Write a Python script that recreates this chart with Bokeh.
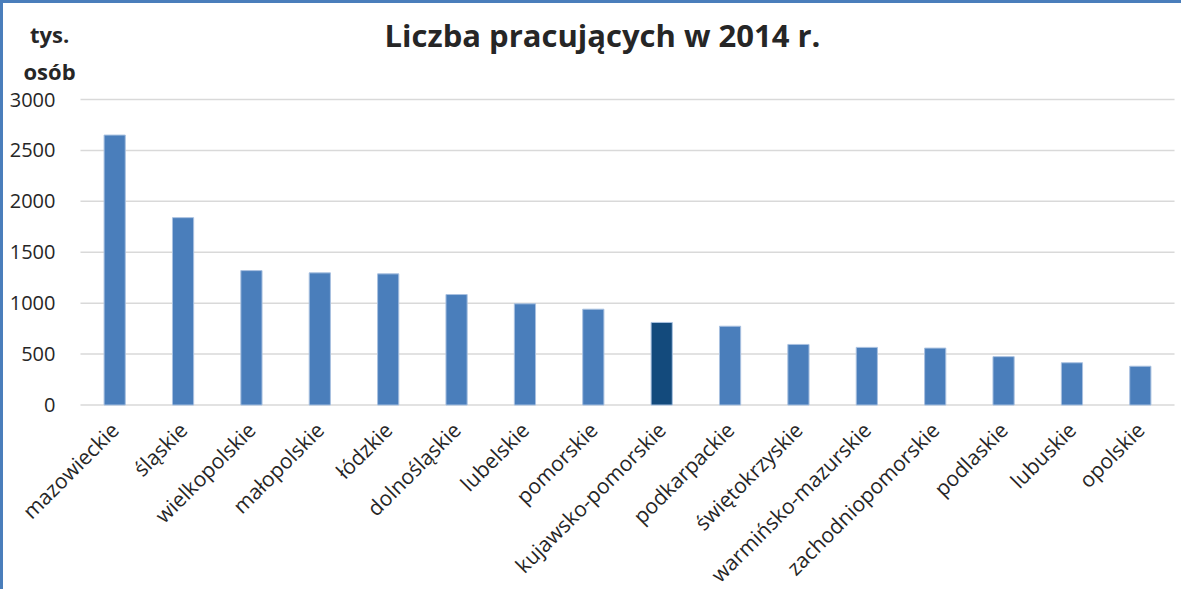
from bokeh.plotting import figure
from bokeh.models import Range1d, Label, ColumnDataSource
from bokeh.core.properties import value
from bokeh.embed import file_html
from bokeh.resources import INLINE
import math

regions = ["mazowieckie", "śląskie", "wielkopolskie", "małopolskie", "łódzkie",
           "dolnośląskie", "lubelskie", "pomorskie", "kujawsko-pomorskie",
           "podkarpackie", "świętokrzyskie", "warmińsko-mazurskie",
           "zachodniopomorskie", "podlaskie", "lubuskie", "opolskie"]
employed = [2651, 1840, 1320, 1298, 1288, 1085, 994, 941, 811, 774,
            595, 566, 559, 475, 415, 381]
highlight = "kujawsko-pomorskie"
y_ticks = [0, 500, 1000, 1500, 2000, 2500, 3000]
title_text = "Liczba pracujących w 2014 r."
unit_lines = ["tys.", "osób"]

BASE = "#4A7EBB"
DARK = "#134A7C"
FONT = "Open Sans"
TXT = "#262626"

n = len(regions)
xs = list(range(n))
colors = [DARK if r == highlight else BASE for r in regions]
src = ColumnDataSource(dict(x=xs, top=employed, color=colors, name=regions,
                            base=[0] * n))

p = figure(x_range=Range1d(-1.626, n - 0.354), y_range=Range1d(-1841, 3943),
           width=1181, height=589, output_backend="svg", toolbar_location=None,
           x_axis_location=None, y_axis_location=None,
           min_border_left=0, min_border_right=0, min_border_top=0,
           min_border_bottom=0)
p.styles = {"border-left": "3px solid #4A7EBB", "border-top": "3px solid #4A7EBB"}
p.outline_line_color = None
for g in p.grid:
    g.grid_line_color = None

# horizontal gridlines across the category area
p.segment(x0=[-0.5] * len(y_ticks), x1=[n - 0.5] * len(y_ticks),
          y0=y_ticks, y1=y_ticks, line_color="#D9D9D9", line_width=1.5)

p.vbar(x="x", top="top", width=0.31, fill_color="color", line_color="#A9C1E0",
       line_width=1, source=src)

# value-axis tick labels
p.text(x=[-0.5] * len(y_ticks), y=y_ticks, text=[str(t) for t in y_ticks],
       x_offset=-25, text_align="right", text_baseline="middle",
       text_font=value(FONT), text_font_size=value("20px"), text_color=TXT)

# category labels, rotated 45 degrees
p.text(x="x", y="base", text="name", source=src, angle=math.pi / 4,
       y_offset=21, text_align="right", text_baseline="middle",
       text_font=value(FONT), text_font_size=value("21px"), text_color=TXT)

p.add_layout(Label(x=7.134, y=3633, text=title_text,
                   text_font=FONT, text_font_size="31px", text_font_style="bold",
                   text_color=TXT, text_align="center", text_baseline="alphabetic"))
p.add_layout(Label(x=-0.953, y=3648, text=unit_lines[0], text_font=FONT,
                   text_font_size="22px", text_font_style="bold", text_color=TXT,
                   text_align="center", text_baseline="alphabetic"))
p.add_layout(Label(x=-0.953, y=3284, text=unit_lines[1], text_font=FONT,
                   text_font_size="22px", text_font_style="bold", text_color=TXT,
                   text_align="center", text_baseline="alphabetic"))

open("out.html", "w").write(file_html(p, INLINE))
